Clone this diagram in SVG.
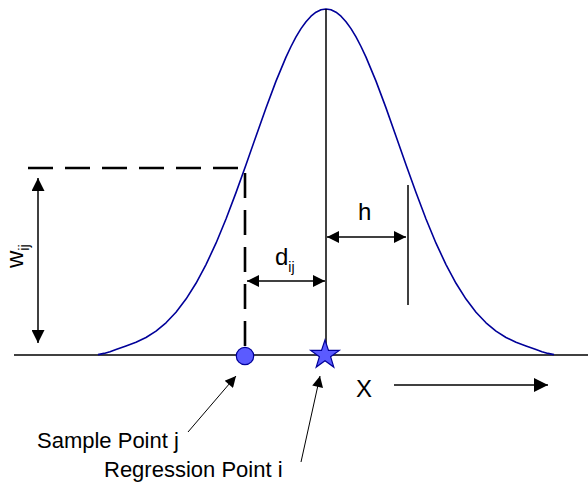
<svg xmlns="http://www.w3.org/2000/svg" width="588" height="484" viewBox="0 0 588 484">
<style>
.ln{stroke:#000;stroke-width:1.5;fill:none}
.lbl{font-family:"Liberation Sans",Arial,sans-serif;fill:#000}
.big{font-size:24px}
.sub{font-size:14px}
.cap{font-size:22px}
</style>
<defs>
<marker id="ahL" viewBox="0 0 10 10" refX="10" refY="5" markerUnits="userSpaceOnUse" markerWidth="18" markerHeight="13" orient="auto-start-reverse"><path d="M0,0 L10,5 L0,10 z" fill="#000"/></marker>
<marker id="ahM" viewBox="0 0 10 10" refX="10" refY="5" markerUnits="userSpaceOnUse" markerWidth="14" markerHeight="12" orient="auto-start-reverse"><path d="M0,0 L10,5 L0,10 z" fill="#000"/></marker>
<marker id="ahX" viewBox="0 0 10 10" refX="10" refY="5" markerUnits="userSpaceOnUse" markerWidth="20" markerHeight="14" orient="auto"><path d="M0,0 L10,5 L0,10 z" fill="#000"/></marker>
<marker id="ahS" viewBox="0 0 10 10" refX="10" refY="5" markerUnits="userSpaceOnUse" markerWidth="16" markerHeight="11" orient="auto"><path d="M0,0 L10,5 L0,10 z" fill="#000"/></marker>
</defs>
<rect width="588" height="484" fill="#fff"/>
<g id="axis">
<line class="ln" x1="14" y1="355" x2="588" y2="355"/>
</g>
<g id="kernel-curve">
<polyline fill="none" stroke="#000099" stroke-width="1.6" stroke-linejoin="round" points="98,354.6 104,353.4 110,351.8 116,349.6 126,345.9 136,342.3 146,337.5 156,331.1 166,322.8 176,312.2 186,299.1 196,283.3 206,264.6 216,243.2 226,219 236,192.6 246,164.7 256,136.2 266,107.9 276,81.1 286,57.1 291,46.5 296,36.9 301,28.6 306,21.7 311,16.2 316,12.2 321,9.8 326,9 331,9.8 336,12.2 341,16.2 346,21.7 351,28.6 356,36.9 361,46.5 366,57.1 376,81.1 386,107.9 396,136.2 406,164.7 416,192.6 426,219 436,243.2 446,264.6 456,283.3 466,299.1 476,312.2 486,322.8 496,331.1 506,337.5 516,342.3 526,345.9 536,349.6 542,351.8 548,353.4 554,354.6"/>
</g>
<g id="connectors">
<line class="ln" x1="326" y1="9" x2="326" y2="345"/>
<line class="ln" x1="408" y1="185" x2="408" y2="305"/>
<path d="M28,168 H245 V348" fill="none" stroke="#000" stroke-width="2.6" stroke-dasharray="25 12"/>
<line class="ln" x1="38" y1="178" x2="38" y2="343" marker-start="url(#ahL)" marker-end="url(#ahL)"/>
<line class="ln" x1="247" y1="281" x2="325" y2="281" marker-start="url(#ahM)" marker-end="url(#ahM)"/>
<line class="ln" x1="327" y1="237" x2="406" y2="237" marker-start="url(#ahM)" marker-end="url(#ahM)"/>
<line class="ln" x1="394" y1="385" x2="548" y2="385" marker-end="url(#ahX)"/>
<line stroke="#000" stroke-width="1" x1="188" y1="432" x2="236" y2="376" marker-end="url(#ahS)"/>
<line stroke="#000" stroke-width="1" x1="301" y1="462" x2="320" y2="376" marker-end="url(#ahS)"/>
</g>
<g id="sample-point">
<circle cx="245" cy="356" r="8.7" fill="#5b5bff" stroke="#000099" stroke-width="1.2"/>
</g>
<g id="regression-point">
<polygon transform="translate(325,355)" fill="#5b5bff" stroke="#000099" stroke-width="1.2" points="0,-15 3.5,-4.6 14.3,-4.6 5.6,1.8 8.8,12.1 0,5.8 -8.8,12.1 -5.6,1.8 -14.3,-4.6 -3.5,-4.6"/>
</g>
<g id="labels">
<text class="lbl big" transform="translate(23,268) rotate(-90)">w<tspan class="sub" dy="6">ij</tspan></text>
<text class="lbl big" x="275" y="265">d<tspan class="sub" dy="7">ij</tspan></text>
<text class="lbl big" x="358" y="220">h</text>
<text class="lbl big" x="356" y="397">X</text>
<text class="lbl cap" x="37" y="448">Sample Point j</text>
<text class="lbl cap" x="104" y="477">Regression Point i</text>
</g>
</svg>
